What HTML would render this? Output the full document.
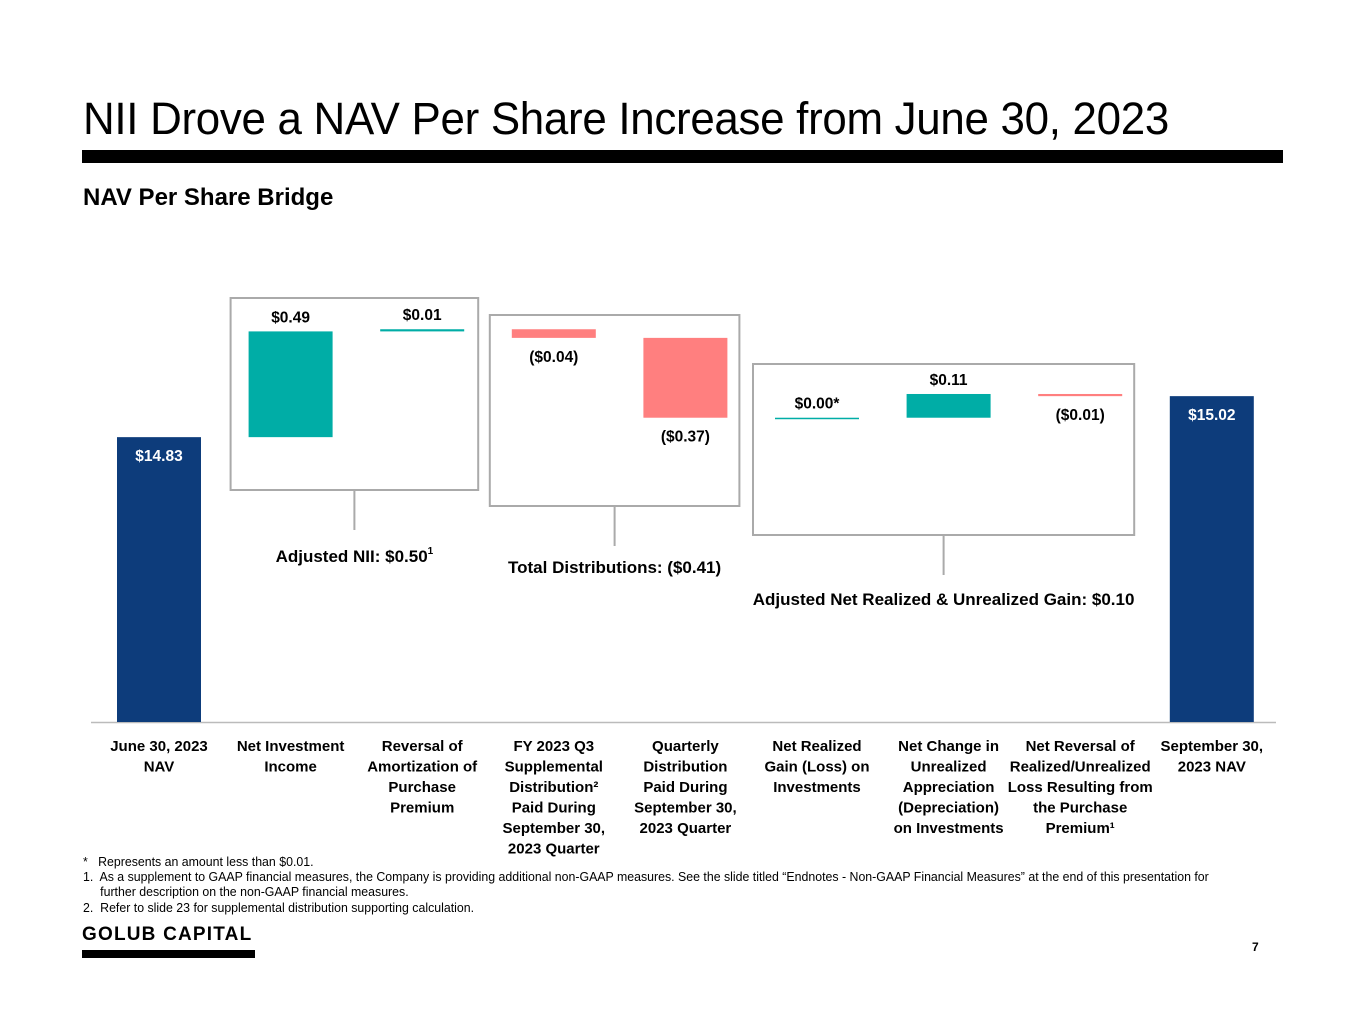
<!DOCTYPE html>
<html><head><meta charset="utf-8"><style>
body{margin:0;width:1365px;height:1024px;background:#fff;font-family:"Liberation Sans",sans-serif;position:relative;overflow:hidden;color:#000}
.abs{position:absolute}
#title{left:83px;top:93px;font-size:45px;white-space:nowrap;transform:scaleX(0.975);transform-origin:left top;letter-spacing:-0.3px}
#rule{left:82px;top:150px;width:1201px;height:13px;background:#000}
#sub{left:83px;top:184px;font-size:24px;font-weight:bold;white-space:nowrap;transform:scaleX(1.0);transform-origin:left top}
.fn{font-size:12.6px;left:83px;white-space:nowrap;transform:scaleX(0.98);transform-origin:left top}
#logo{left:82px;top:924px;font-size:19px;font-weight:bold;letter-spacing:1.2px}
#logobar{left:82px;top:950px;width:173px;height:8px;background:#000}
#pg{left:1252px;top:940px;font-size:12px;font-weight:bold}
svg text{font-family:"Liberation Sans",sans-serif}
</style></head><body>
<div class="abs" id="title">NII Drove a NAV Per Share Increase from June 30, 2023</div>
<div class="abs" id="rule"></div>
<div class="abs" id="sub">NAV Per Share Bridge</div>
<svg class="abs" style="left:0;top:0" width="1365" height="880" id="chart"></svg>
<div class="abs fn" style="top:855px">*&nbsp;&nbsp;&nbsp;Represents an amount less than $0.01.</div>
<div class="abs fn" style="top:870px;line-height:15px">1.&nbsp; As a supplement to GAAP financial measures, the Company is providing additional non-GAAP measures. See the slide titled “Endnotes - Non-GAAP Financial Measures” at the end of this presentation for<br>&nbsp;&nbsp;&nbsp;&nbsp;&nbsp;further description on the non-GAAP financial measures.</div>
<div class="abs fn" style="top:901px">2.&nbsp; Refer to slide 23 for supplemental distribution supporting calculation.</div>
<div class="abs" id="logo">GOLUB CAPITAL</div>
<div class="abs" id="logobar"></div>
<div class="abs" id="pg">7</div>
<script>
const categories=[["June 30, 2023","NAV"],["Net Investment","Income"],["Reversal of","Amortization of","Purchase","Premium"],["FY 2023 Q3","Supplemental","Distribution²","Paid During","September 30,","2023 Quarter"],["Quarterly","Distribution","Paid During","September 30,","2023 Quarter"],["Net Realized","Gain (Loss) on","Investments"],["Net Change in","Unrealized","Appreciation","(Depreciation)","on Investments"],["Net Reversal of","Realized/Unrealized","Loss Resulting from","the Purchase","Premium¹"],["September 30,","2023 NAV"]];
const values=[14.83,0.49,0.01,-0.04,-0.37,0.00,0.11,-0.01,15.02];
const types=["total","delta","delta","delta","delta","delta","delta","delta","total"];
const labels=["$14.83","$0.49","$0.01","($0.04)","($0.37)","$0.00*","$0.11","($0.01)","$15.02"];
const groupLabels=["Adjusted NII: $0.50","Total Distributions: ($0.41)","Adjusted Net Realized & Unrealized Gain: $0.10"];
const groupRanges=[[1,2],[3,4],[5,7]];

const svg=document.getElementById('chart');
const NS='http://www.w3.org/2000/svg';
const base=722, axisMin=13.51, pxPer=215.8;
function y(v){return base-(v-axisMin)*pxPer;}
function xc(i){return 159+i*131.6;}
const bw=84;
function mk(tag,attrs,name){const e=document.createElementNS(NS,tag);for(const k in attrs)e.setAttribute(k,attrs[k]);


svg.appendChild(e);return e;}
mk('line',{x1:91,x2:1276,y1:base+0.5,y2:base+0.5,stroke:'#bbb','stroke-width':1.5},'x-axis-line');
const boxPad=[[18,14],[22,12],[22,12]];
const boxY=[[298,490],[315,506],[364,535]];
const labY=[562,573,605];
groupRanges.forEach((g,k)=>{
  const x0=xc(g[0])-bw/2-boxPad[k][0], x1=xc(g[1])+bw/2+boxPad[k][1];
  mk('rect',{x:x0,y:boxY[k][0],width:x1-x0,height:boxY[k][1]-boxY[k][0],fill:'none',stroke:'#aaa','stroke-width':2},'group-box-'+(k+1));
  const cx=(x0+x1)/2;
  mk('line',{x1:cx,x2:cx,y1:boxY[k][1],y2:boxY[k][1]+40,stroke:'#aaa','stroke-width':2},'group-connector-'+(k+1));
  const t=mk('text',{x:cx,y:labY[k],'text-anchor':'middle','font-size':17,'font-weight':'bold'},'group-label-'+(k+1));
  t.textContent=groupLabels[k];
  if(k===0){const s=document.createElementNS(NS,'tspan');s.setAttribute('font-size',10);s.setAttribute('dy',-8);s.textContent='1';t.appendChild(s);}
});
let run=0;
values.forEach((v,i)=>{
  let top,bot,color;
  if(types[i]==='total'){run=v;top=y(v);bot=base;color='#0d3c7b';}
  else{const a=run,b=run+v;run=b;top=y(Math.max(a,b));bot=y(Math.min(a,b));color=v<0?'#ff7f7f':'#00ada6';}
  let h=bot-top; if(h<1.5){h=1.5;}
  if(types[i]!=='total' && Math.abs(v)<0.005){color='#00ada6';}
  mk('rect',{x:xc(i)-bw/2,y:top,width:bw,height:h,fill:color},'bar-'+i);
  let ly,fill='#000';
  if(types[i]==='total'){ly=top+24;fill='#fff';}
  else if(v<0){ly=bot+24;}
  else{ly=top-9;}
  const t=mk('text',{x:xc(i),y:ly,'text-anchor':'middle','font-size':15.5,'font-weight':'bold',fill:fill},'value-label-'+i);
  t.textContent=labels[i];
  categories[i].forEach((ln,j)=>{
    const c=mk('text',{x:xc(i),y:751+j*20.5,'text-anchor':'middle','font-size':15,'font-weight':'bold'},'category-label-'+i);
    c.textContent=ln;
  });
});
</script>
</body></html>
